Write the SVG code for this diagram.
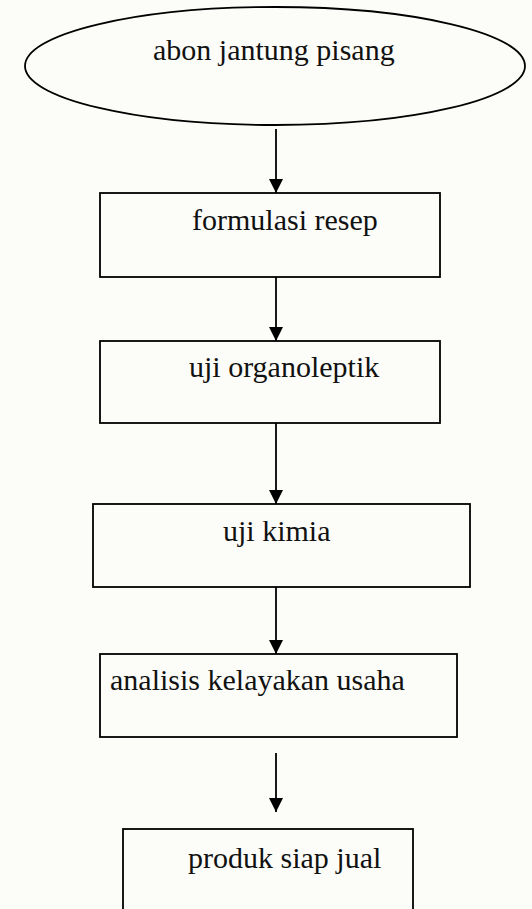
<svg xmlns="http://www.w3.org/2000/svg" width="532" height="909" viewBox="0 0 532 909">
<style>
.shape{fill:none;stroke:#000;stroke-width:1.8}
.lbl{font-family:"Liberation Serif","Times New Roman",serif;font-size:30px;fill:#111}
.conn{stroke:#000;stroke-width:1.8;fill:none}
</style>
<defs>
<marker id="ah" viewBox="0 0 14 14" refX="14" refY="7" markerWidth="14" markerHeight="14" markerUnits="userSpaceOnUse" orient="auto">
<path d="M0,0 L14,7 L0,14 Z" fill="#000"/>
</marker>
</defs>
<rect width="532" height="909" fill="#fcfdf8"/>
<g id="n1"><ellipse class="shape" cx="275" cy="66" rx="250" ry="59"/><text class="lbl" x="153" y="60">abon jantung pisang</text></g>
<g id="n2"><rect class="shape" x="100" y="193" width="340" height="84"/><text class="lbl" x="192" y="230">formulasi resep</text></g>
<g id="n3"><rect class="shape" x="100" y="341" width="340" height="82"/><text class="lbl" x="189" y="377">uji organoleptik</text></g>
<g id="n4"><rect class="shape" x="93" y="504" width="377" height="83"/><text class="lbl" x="223" y="541">uji kimia</text></g>
<g id="n5"><rect class="shape" x="100" y="654" width="357" height="83"/><text class="lbl" x="110" y="690">analisis kelayakan usaha</text></g>
<g id="n6"><rect class="shape" x="123" y="829" width="290" height="100"/><text class="lbl" x="188" y="868">produk siap jual</text></g>
<g id="connectors">
<line class="conn" x1="276" y1="129" x2="276" y2="193" marker-end="url(#ah)"/>
<line class="conn" x1="276" y1="277" x2="276" y2="341" marker-end="url(#ah)"/>
<line class="conn" x1="276" y1="423" x2="276" y2="504" marker-end="url(#ah)"/>
<line class="conn" x1="276" y1="587" x2="276" y2="654" marker-end="url(#ah)"/>
<line class="conn" x1="276" y1="753" x2="276" y2="812" marker-end="url(#ah)"/>
</g>
</svg>
